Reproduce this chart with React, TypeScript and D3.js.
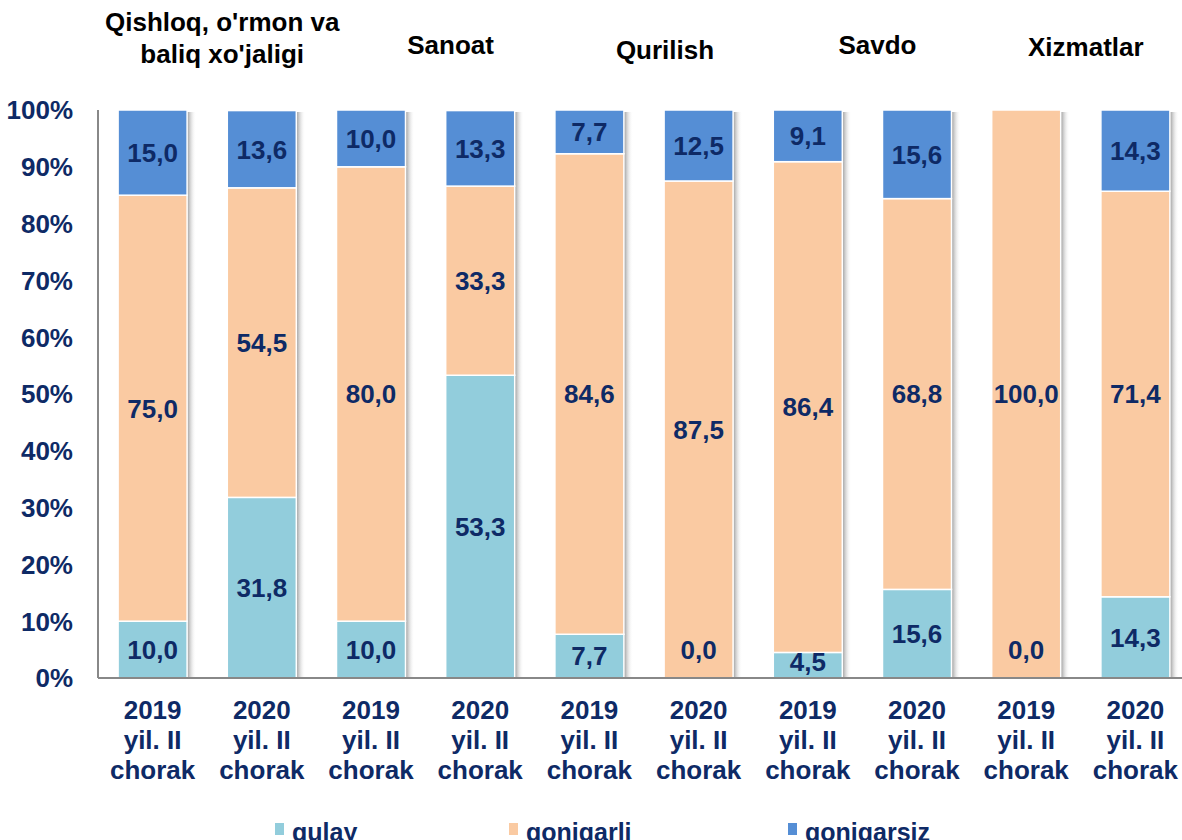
import React, { useEffect, useRef } from 'react';
import * as d3 from 'd3';

// categories (sector + period)
const sectors = ["Qishloq, o'rmon va|baliq xo'jaligi", 'Sanoat', 'Qurilish', 'Savdo', 'Xizmatlar'];
const periods = ['2019', '2020'];
const qulay = [10.0, 31.8, 10.0, 53.3, 7.7, 0.0, 4.5, 15.6, 0.0, 14.3];
const qoniqarli = [75.0, 54.5, 80.0, 33.3, 84.6, 87.5, 86.4, 68.8, 100.0, 71.4];
const qoniqarsiz = [15.0, 13.6, 10.0, 13.3, 7.7, 12.5, 9.1, 15.6, 0.0, 14.3];
const seriesNames = ['qulay', 'qoniqarli', 'qoniqarsiz'];
const yTicks = [0, 10, 20, 30, 40, 50, 60, 70, 80, 90, 100];

const colors = ['#92CDDC', '#FACAA2', '#558ED5'];
const navy = '#0E2A66';
// title offsets relative to sector centre, as in the original
const titleLayout = [
  { dx: 15, y: 31 },
  { dx: 25, y: 54 },
  { dx: 21, y: 59 },
  { dx: 15, y: 54 },
  { dx: 5, y: 56 },
];

export default function App() {
  const ref = useRef<SVGSVGElement>(null);

  useEffect(() => {
    const svg = d3.select(ref.current);
    svg.selectAll('*').remove();
    const W = 1182;
    const left = 98, top = 110, bottom = 678;
    const font = 'Liberation Sans, Arial, sans-serif';
    const fs = 26;

    const cats = d3.range(qulay.length).map(String);
    const x = d3.scaleBand().domain(cats).range([left, left + 1092]).paddingInner(0.368).paddingOuter(0.184);
    const y = d3.scaleLinear().domain([0, 100]).range([bottom, top]);

    const rows = cats.map((c, i) => ({ c, qulay: qulay[i], qoniqarli: qoniqarli[i], qoniqarsiz: qoniqarsiz[i] }));
    const stacked = d3.stack<any>().keys(seriesNames)(rows);

    const defs = svg.append('defs');
    const grad = defs.append('linearGradient').attr('id', 'shadow');
    grad.append('stop').attr('offset', '0%').attr('stop-color', '#8c8c8c').attr('stop-opacity', 0.9);
    grad.append('stop').attr('offset', '100%').attr('stop-color', '#ffffff').attr('stop-opacity', 0);

    // shadows
    svg.append('g').selectAll('rect').data(cats).join('rect')
      .attr('x', d => x(d)! + x.bandwidth())
      .attr('y', top + 2)
      .attr('width', 9)
      .attr('height', bottom - top - 2)
      .attr('fill', 'url(#shadow)');

    // bars
    stacked.forEach((s, si) => {
      svg.append('g').selectAll('rect').data(s).join('rect')
        .attr('x', (d: any) => x(d.data.c)!)
        .attr('y', (d: any) => y(d[1]))
        .attr('width', x.bandwidth())
        .attr('height', (d: any) => Math.max(0, y(d[0]) - y(d[1])))
        .attr('fill', colors[si])
        .attr('stroke', '#fff')
        .attr('stroke-width', 1.5);
    });

    // value labels
    stacked.forEach((s, si) => {
      s.forEach((d: any, i) => {
        const v = d.data[seriesNames[si]];
        if (si === 2 && v === 0) return;
        let cy = y((d[0] + d[1]) / 2);
        if (si === 0) cy = v === 0 ? bottom - 28 : Math.min(cy, bottom - 16);
        svg.append('text')
          .attr('x', x(cats[i])! + x.bandwidth() / 2)
          .attr('y', cy)
          .attr('dy', '0.36em')
          .attr('text-anchor', 'middle')
          .attr('font-family', font).attr('font-weight', 'bold').attr('font-size', fs)
          .attr('fill', navy)
          .text(d3.format('.1f')(v).replace('.', ','));
      });
    });

    // axes lines
    svg.append('line').attr('x1', left).attr('x2', left).attr('y1', top).attr('y2', bottom)
      .attr('stroke', '#888').attr('stroke-width', 2);
    svg.append('line').attr('x1', left).attr('x2', W).attr('y1', bottom).attr('y2', bottom)
      .attr('stroke', '#888').attr('stroke-width', 2);

    // y ticks
    svg.append('g').selectAll('text').data(yTicks).join('text')
      .attr('x', 73).attr('y', d => y(d)).attr('dy', '0.36em')
      .attr('text-anchor', 'end')
      .attr('font-family', font).attr('font-weight', 'bold').attr('font-size', fs)
      .attr('fill', navy)
      .text(d => d + '%');

    // x labels
    cats.forEach((c, i) => {
      const t = svg.append('text')
        .attr('x', x(c)! + x.bandwidth() / 2)
        .attr('text-anchor', 'middle')
        .attr('font-family', font).attr('font-weight', 'bold').attr('font-size', fs)
        .attr('fill', navy);
      [periods[i % 2], 'yil. II', 'chorak'].forEach((line, li) => {
        t.append('tspan').attr('x', x(c)! + x.bandwidth() / 2).attr('y', 719 + li * 30).text(line);
      });
    });

    // sector titles
    sectors.forEach((s, si) => {
      const cx = (x(cats[si * 2])! + x(cats[si * 2 + 1])! + x.bandwidth()) / 2 + titleLayout[si].dx;
      const lines = s.split('|');
      const t = svg.append('text')
        .attr('text-anchor', 'middle')
        .attr('font-family', font).attr('font-weight', 'bold').attr('font-size', fs)
        .attr('fill', '#000');
      lines.forEach((l, li) => {
        t.append('tspan').attr('x', cx).attr('y', titleLayout[si].y + li * 32).text(l);
      });
    });

    // legend
    const legendX = [275, 509, 788];
    seriesNames.forEach((n, i) => {
      svg.append('rect').attr('x', legendX[i]).attr('y', 823).attr('width', 9).attr('height', 12)
        .attr('fill', colors[i]);
      svg.append('text').attr('x', legendX[i] + 17).attr('y', 841)
        .attr('font-family', font).attr('font-weight', 'bold').attr('font-size', 25)
        .attr('fill', navy)
        .text(n);
    });
  }, []);

  return (
    <svg ref={ref} width={1182} height={840}
      style={{ position: 'absolute', left: 0, top: 0, background: '#fff' }} />
  );
}
